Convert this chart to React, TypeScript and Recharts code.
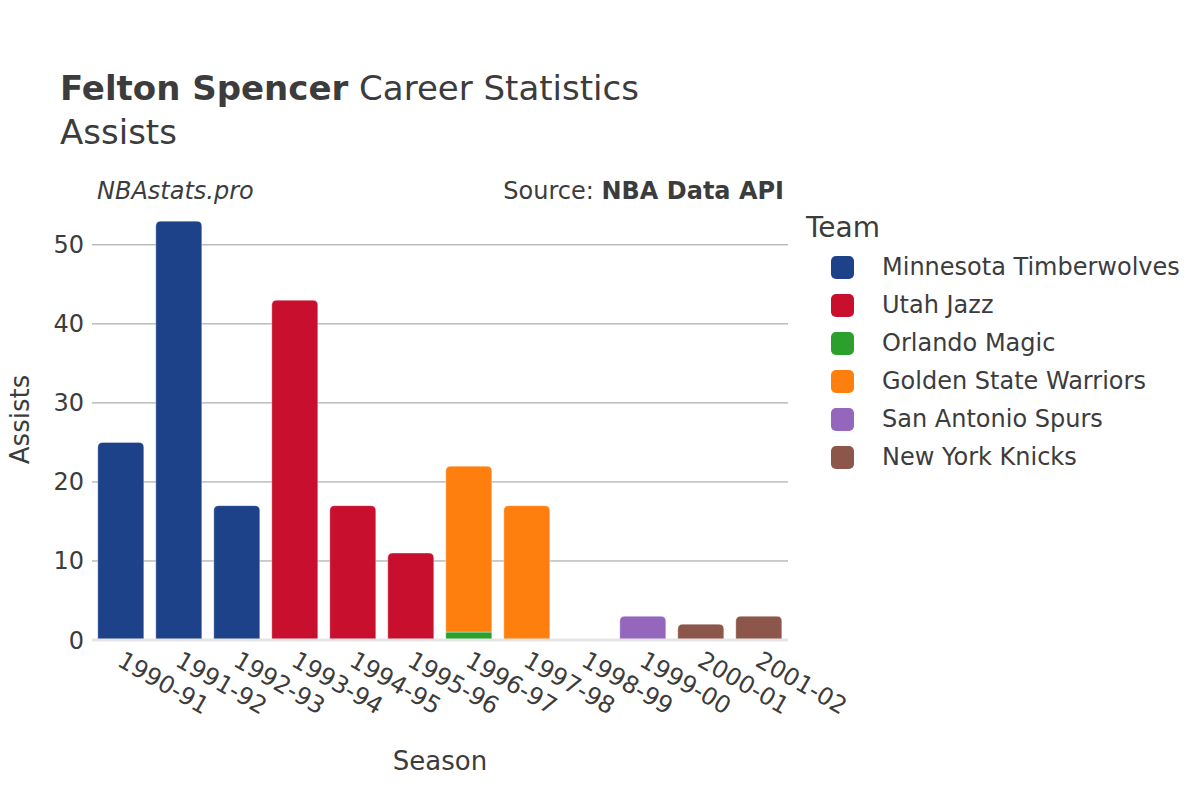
import { BarChart, Bar, XAxis, YAxis, CartesianGrid } from "recharts";

// ─────────────────────────────────────────
// DATA
// ─────────────────────────────────────────

const seasons = [
  "1990-91", "1991-92", "1992-93", "1993-94", "1994-95", "1995-96",
  "1996-97", "1997-98", "1998-99", "1999-00", "2000-01", "2001-02",
];

const teams = [
  "Minnesota Timberwolves",
  "Utah Jazz",
  "Orlando Magic",
  "Golden State Warriors",
  "San Antonio Spurs",
  "New York Knicks",
];

const teamColors = ["#1d428a", "#c8102e", "#2ca02c", "#ff7f0e", "#9467bd", "#8c564b"];

const minnesota = [25, 53, 17, 0, 0, 0, 0, 0, 0, 0, 0, 0];
const utah = [0, 0, 0, 43, 17, 11, 0, 0, 0, 0, 0, 0];
const orlando = [0, 0, 0, 0, 0, 0, 1, 0, 0, 0, 0, 0];
const goldenState = [0, 0, 0, 0, 0, 0, 21, 17, 0, 0, 0, 0];
const sanAntonio = [0, 0, 0, 0, 0, 0, 0, 0, 0, 3, 0, 0];
const newYork = [0, 0, 0, 0, 0, 0, 0, 0, 0, 0, 2, 3];

const yTicks = [0, 10, 20, 30, 40, 50];

const seriesValues = [minnesota, utah, orlando, goldenState, sanAntonio, newYork];

const data = seasons.map((season, i) => {
  const row: Record<string, string | number> = { season };
  teams.forEach((t, k) => {
    row[t] = seriesValues[k][i];
  });
  return row;
});

// ─────────────────────────────────────────
// HELPERS
// ─────────────────────────────────────────

const FONT = "'DejaVu Sans', sans-serif";
const TEXT = "#3c3c3c";

/** Name of the topmost non-zero team for a season row */
const topTeam = (row: Record<string, string | number>) => {
  let top = "";
  teams.forEach((t) => {
    if (Number(row[t]) > 0) top = t;
  });
  return top;
};

/** Bar segment, rounded on top only when it is the top of the stack */
const Segment = (props: any) => {
  const { x, y, width, height, fill, payload, dataKey } = props;
  if (!height || height <= 0) return null;
  const r = topTeam(payload) === dataKey ? Math.min(5, height) : 0;
  const d = `M${x},${y + height} L${x},${y + r} Q${x},${y} ${x + r},${y} L${x + width - r},${y} Q${x + width},${y} ${x + width},${y + r} L${x + width},${y + height} Z`;
  return <path d={d} fill={fill} stroke="rgba(255,255,255,0.35)" strokeWidth={1} />;
};

const SeasonTick = (props: any) => {
  const { x, y, payload } = props;
  return (
    <text
      x={x - 5}
      y={y + 17}
      transform={`rotate(30, ${x - 5}, ${y + 17})`}
      fontSize={24}
      fontFamily={FONT}
      fill={TEXT}
      textAnchor="start"
    >
      {payload.value}
    </text>
  );
};

const TeamLegend = () => (
  <div style={{ position: "absolute", left: 806, top: 211, fontFamily: FONT, color: TEXT }}>
    <div style={{ fontSize: 28, marginBottom: 4 }}>Team</div>
    {teams.map((t, i) => (
      <div key={t} style={{ display: "flex", alignItems: "center", height: 38 }}>
        <span
          style={{
            display: "inline-block",
            width: 23,
            height: 23,
            borderRadius: 5,
            background: teamColors[i],
            marginLeft: 25,
            marginRight: 28,
          }}
        />
        <span style={{ fontSize: 24, whiteSpace: "nowrap" }}>{t}</span>
      </div>
    ))}
  </div>
);

// ─────────────────────────────────────────
// COMPONENT
// ─────────────────────────────────────────

export default function App() {
  return (
    <div style={{ position: "absolute", left: 0, top: 0, width: 1200, height: 800, background: "#fff", fontFamily: FONT }}>
      <div style={{ position: "absolute", left: 60, top: 68, fontSize: 34, color: TEXT, whiteSpace: "nowrap" }}>
        <b>Felton Spencer</b> Career Statistics
      </div>
      <div style={{ position: "absolute", left: 60, top: 112, fontSize: 34, color: TEXT }}>Assists</div>
      <div style={{ position: "absolute", left: 97, top: 177, fontSize: 24, color: TEXT, fontStyle: "italic" }}>
        NBAstats.pro
      </div>
      <div style={{ position: "absolute", right: 416, top: 177, fontSize: 24, color: TEXT, whiteSpace: "nowrap" }}>
        Source: <b>NBA Data API</b>
      </div>

      <BarChart
        width={1200}
        height={800}
        data={data}
        margin={{ top: 199, right: 412, left: 32, bottom: 40 }}
        barCategoryGap="10%"
      >
        <CartesianGrid vertical={false} stroke="#9a9a9a" strokeWidth={1} horizontalValues={yTicks} />
        <XAxis
          dataKey="season"
          tick={<SeasonTick />}
          tickLine={false}
          axisLine={{ stroke: "#e5e5e5", strokeWidth: 3 }}
          height={120}
          interval={0}
          label={{ value: "Season", position: "insideBottom", offset: -10, fontSize: 26, fill: TEXT, fontFamily: FONT }}
        />
        <YAxis
          domain={[0, 55.8]}
          ticks={yTicks}
          width={60}
          tick={{ fontSize: 24, fill: TEXT, fontFamily: FONT }}
          tickLine={false}
          axisLine={false}
          label={{ value: "Assists", angle: -90, position: "insideLeft", offset: -12, fontSize: 26, fill: TEXT, fontFamily: FONT, style: { textAnchor: "middle" } }}
        />
        {teams.map((t, i) => (
          <Bar
            key={t}
            dataKey={t}
            stackId="a"
            fill={teamColors[i]}
            shape={<Segment />}
            isAnimationActive={false}
          />
        ))}
      </BarChart>

      <TeamLegend />
    </div>
  );
}
